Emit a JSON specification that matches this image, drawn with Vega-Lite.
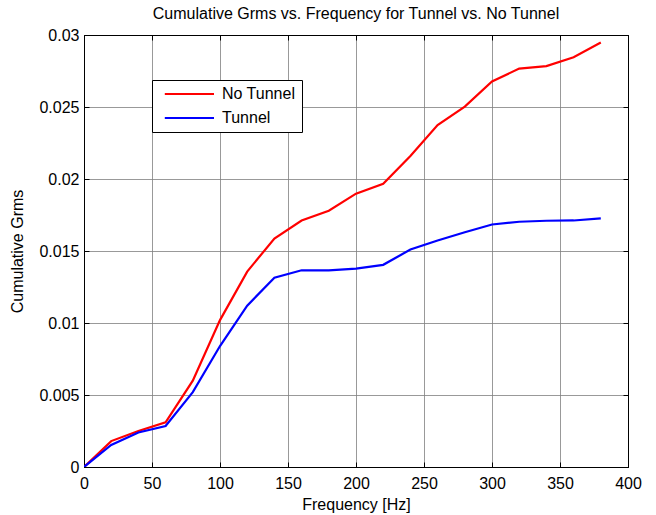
{
  "$schema": "https://vega.github.io/schema/vega-lite/v6.json",
  "width": 544,
  "height": 432,
  "autosize": {"type": "none"},
  "padding": {"left": 84, "top": 35, "right": 28, "bottom": 48},
  "background": "white",
  "title": {
    "text": "Cumulative Grms vs. Frequency for Tunnel vs. No Tunnel",
    "font": "Liberation Sans",
    "fontSize": 16,
    "fontWeight": "normal",
    "color": "black",
    "anchor": "middle",
    "offset": 5
  },
  "config": {
    "view": {"stroke": "black", "strokeWidth": 1},
    "axis": {
      "labelFont": "Liberation Sans",
      "labelFontSize": 16,
      "labelColor": "black",
      "labelFlush": false,
      "labelOverlap": false,
      "titleFont": "Liberation Sans",
      "titleFontSize": 16,
      "titleFontWeight": "normal",
      "titleColor": "black",
      "domainColor": "black",
      "tickColor": "black",
      "gridColor": "#808080",
      "gridOpacity": 0.8,
      "gridWidth": 1
    }
  },
  "data": {
    "values": [
      {"freq": 0, "grms": 0, "series": "No Tunnel"},
      {"freq": 20, "grms": 0.0018, "series": "No Tunnel"},
      {"freq": 40, "grms": 0.0025, "series": "No Tunnel"},
      {"freq": 60, "grms": 0.0031, "series": "No Tunnel"},
      {"freq": 80, "grms": 0.0060, "series": "No Tunnel"},
      {"freq": 100, "grms": 0.0102, "series": "No Tunnel"},
      {"freq": 120, "grms": 0.01357, "series": "No Tunnel"},
      {"freq": 140, "grms": 0.01587, "series": "No Tunnel"},
      {"freq": 160, "grms": 0.01712, "series": "No Tunnel"},
      {"freq": 180, "grms": 0.0178, "series": "No Tunnel"},
      {"freq": 200, "grms": 0.01898, "series": "No Tunnel"},
      {"freq": 220, "grms": 0.01967, "series": "No Tunnel"},
      {"freq": 240, "grms": 0.0216, "series": "No Tunnel"},
      {"freq": 260, "grms": 0.02375, "series": "No Tunnel"},
      {"freq": 280, "grms": 0.02503, "series": "No Tunnel"},
      {"freq": 300, "grms": 0.02677, "series": "No Tunnel"},
      {"freq": 320, "grms": 0.02767, "series": "No Tunnel"},
      {"freq": 340, "grms": 0.02784, "series": "No Tunnel"},
      {"freq": 360, "grms": 0.02846, "series": "No Tunnel"},
      {"freq": 380, "grms": 0.02948, "series": "No Tunnel"},
      {"freq": 0, "grms": 0, "series": "Tunnel"},
      {"freq": 20, "grms": 0.00153, "series": "Tunnel"},
      {"freq": 40, "grms": 0.0024, "series": "Tunnel"},
      {"freq": 60, "grms": 0.00285, "series": "Tunnel"},
      {"freq": 80, "grms": 0.0052, "series": "Tunnel"},
      {"freq": 100, "grms": 0.0084, "series": "Tunnel"},
      {"freq": 120, "grms": 0.0112, "series": "Tunnel"},
      {"freq": 140, "grms": 0.01315, "series": "Tunnel"},
      {"freq": 160, "grms": 0.01366, "series": "Tunnel"},
      {"freq": 180, "grms": 0.01366, "series": "Tunnel"},
      {"freq": 200, "grms": 0.01378, "series": "Tunnel"},
      {"freq": 220, "grms": 0.01404, "series": "Tunnel"},
      {"freq": 240, "grms": 0.0151, "series": "Tunnel"},
      {"freq": 260, "grms": 0.01573, "series": "Tunnel"},
      {"freq": 280, "grms": 0.0163, "series": "Tunnel"},
      {"freq": 300, "grms": 0.01684, "series": "Tunnel"},
      {"freq": 320, "grms": 0.01703, "series": "Tunnel"},
      {"freq": 340, "grms": 0.0171, "series": "Tunnel"},
      {"freq": 360, "grms": 0.01712, "series": "Tunnel"},
      {"freq": 380, "grms": 0.01726, "series": "Tunnel"}
    ]
  },
  "layer": [
    {
      "mark": {"type": "line", "strokeWidth": 2.2, "clip": true},
      "encoding": {
        "x": {
          "field": "freq",
          "type": "quantitative",
          "scale": {"domain": [0, 400], "nice": false, "zero": false},
          "axis": {
            "title": "Frequency [Hz]",
            "values": [0, 50, 100, 150, 200, 250, 300, 350, 400],
            "tickSize": -5,
            "labelPadding": 13,
            "titlePadding": 5,
            "grid": true
          }
        },
        "y": {
          "field": "grms",
          "type": "quantitative",
          "scale": {"domain": [0, 0.03], "nice": false, "zero": false},
          "axis": {
            "title": "Cumulative Grms",
            "values": [0, 0.005, 0.01, 0.015, 0.02, 0.025, 0.03],
            "format": "~g",
            "tickSize": -5,
            "labelPadding": 10,
            "titlePadding": 13,
            "grid": true
          }
        },
        "color": {
          "field": "series",
          "type": "nominal",
          "scale": {"domain": ["No Tunnel", "Tunnel"], "range": ["#ff0000", "#0000ff"]},
          "legend": {
            "title": null,
            "orient": "none",
            "legendX": 68,
            "legendY": 45,
            "symbolType": "M-0.2,0H8",
            "symbolSize": 144,
            "symbolStrokeWidth": 2.2,
            "labelFont": "Liberation Sans",
            "labelFontSize": 16,
            "labelColor": "black",
            "labelOffset": 48,
            "padding": 6,
            "rowPadding": 8,
            "strokeColor": "black",
            "fillColor": "white"
          }
        }
      }
    },
    {
      "mark": {"type": "line", "opacity": 0},
      "encoding": {
        "x": {
          "field": "freq",
          "type": "quantitative",
          "axis": {
            "orient": "top",
            "title": null,
            "labels": false,
            "values": [0, 50, 100, 150, 200, 250, 300, 350, 400],
            "tickSize": -5,
            "grid": false
          }
        },
        "y": {
          "field": "grms",
          "type": "quantitative",
          "axis": {
            "orient": "right",
            "title": null,
            "labels": false,
            "values": [0, 0.005, 0.01, 0.015, 0.02, 0.025, 0.03],
            "tickSize": -5,
            "grid": false
          }
        },
        "detail": {"field": "series"}
      }
    }
  ],
  "resolve": {"axis": {"x": "independent", "y": "independent"}}
}
